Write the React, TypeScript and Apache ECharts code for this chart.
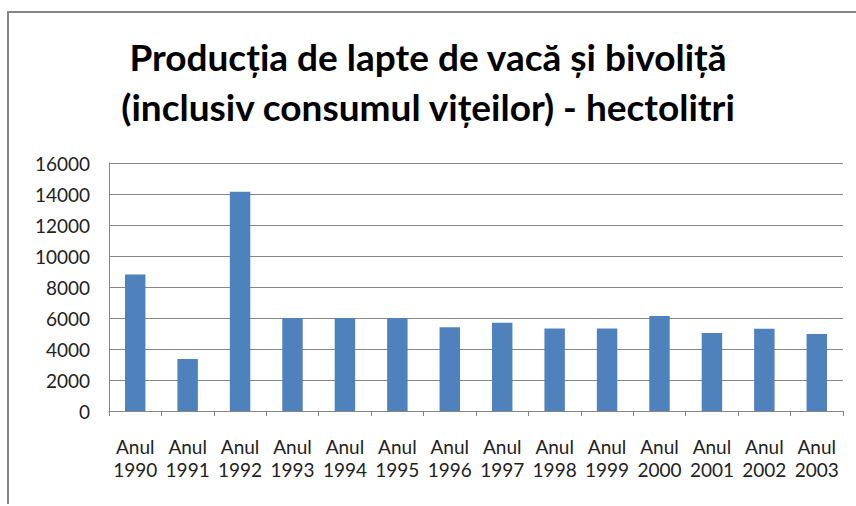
import React, { useEffect, useRef } from "react";
import * as echarts from "echarts";

const titleLines = [
  "Producția de lapte de vacă și bivoliță",
  "(inclusiv consumul vițeilor) - hectolitri",
];
const categories = [
  "Anul\n1990", "Anul\n1991", "Anul\n1992", "Anul\n1993", "Anul\n1994",
  "Anul\n1995", "Anul\n1996", "Anul\n1997", "Anul\n1998", "Anul\n1999",
  "Anul\n2000", "Anul\n2001", "Anul\n2002", "Anul\n2003",
];
const values = [8800, 3350, 14150, 6000, 6000, 6000, 5400, 5700, 5330, 5330, 6130, 5030, 5300, 4960];
const yMin = 0;
const yMax = 16000;
const yStep = 2000;

export default function App() {
  const ref = useRef<HTMLDivElement>(null);
  useEffect(() => {
    document.body.style.margin = "0";
    if (!ref.current) return;
    const chart = echarts.init(ref.current, undefined, { renderer: "svg" });
    const axisGrey = "#868686";
    const font = "Lato, 'Liberation Sans', sans-serif";
    chart.setOption({
      animation: false,
      backgroundColor: "#ffffff",
      title: {
        text: titleLines.join("\n"),
        left: "center",
        top: 26,
        textStyle: {
          fontFamily: font,
          fontWeight: "bold",
          fontSize: 37,
          lineHeight: 50,
          color: "#000000",
        },
      },
      graphic: [
        { type: "line", shape: { x1: 7, y1: 12, x2: 856, y2: 12 }, style: { stroke: axisGrey, lineWidth: 2 } },
        { type: "line", shape: { x1: 8, y1: 11, x2: 8, y2: 504 }, style: { stroke: axisGrey, lineWidth: 2 } },
      ],
      grid: { left: 109, right: 13, top: 163, bottom: 95 },
      xAxis: {
        type: "category",
        data: categories,
        boundaryGap: true,
        axisLine: { show: true, lineStyle: { color: axisGrey, width: 1 } },
        axisTick: { show: true, length: 5, alignWithLabel: false, lineStyle: { color: axisGrey } },
        axisLabel: {
          interval: 0,
          margin: 24,
          fontFamily: font,
          fontSize: 19,
          lineHeight: 23,
          color: "#222222",
        },
      },
      yAxis: {
        type: "value",
        min: yMin,
        max: yMax,
        interval: yStep,
        axisLine: { show: true, lineStyle: { color: axisGrey, width: 1 } },
        axisTick: { show: false },
        splitLine: { show: true, lineStyle: { color: axisGrey, width: 1 } },
        axisLabel: {
          margin: 19,
          fontFamily: font,
          fontSize: 19,
          color: "#222222",
          formatter: (v: number) => String(v),
        },
      },
      series: [
        {
          type: "bar",
          data: values,
          barWidth: "39%",
          itemStyle: { color: "#4F81BD" },
        },
      ],
    });
    return () => chart.dispose();
  }, []);
  return <div ref={ref} style={{ width: 856, height: 506 }} />;
}
